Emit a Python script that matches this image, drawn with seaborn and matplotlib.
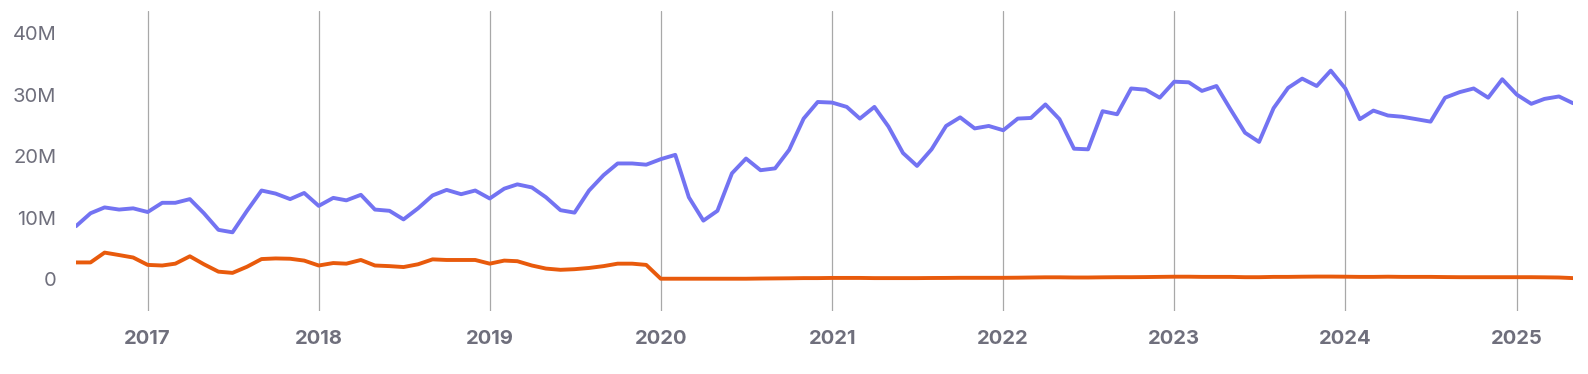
import pandas as pd
import matplotlib
matplotlib.use("Agg")
import matplotlib.pyplot as plt
import matplotlib.dates as mdates
import seaborn as sns

# monatliche Werte, Aug 2016 bis Mai 2025 (in Millionen)
months = pd.date_range("2016-08-01", "2025-05-01", freq="MS")

blue_values = [
    8.6, 10.7, 11.65, 11.3, 11.5,
    10.9, 12.4, 12.4, 13.0, 10.7, 8.0, 7.6, 11.1, 14.4, 13.9, 13.0, 14.0,
    11.9, 13.2, 12.8, 13.7, 11.3, 11.1, 9.7, 11.5, 13.6, 14.5, 13.8, 14.4,
    13.1, 14.7, 15.4, 14.9, 13.3, 11.2, 10.8, 14.4, 16.9, 18.8, 18.8, 18.6,
    19.5, 20.2, 13.3, 9.5, 11.1, 17.2, 19.6, 17.7, 18.0, 21.0, 26.1, 28.8,
    28.7, 28.0, 26.1, 28.0, 24.8, 20.5, 18.4, 21.1, 24.9, 26.3, 24.5, 24.9,
    24.2, 26.1, 26.2, 28.4, 26.0, 21.2, 21.1, 27.3, 26.8, 31.0, 30.8, 29.5,
    32.1, 32.0, 30.6, 31.4, 27.6, 23.8, 22.3, 27.8, 31.1, 32.6, 31.4, 33.9,
    31.0, 26.0, 27.4, 26.6, 26.4, 26.0, 25.6, 29.5, 30.4, 31.0, 29.5, 32.5,
    30.0, 28.5, 29.3, 29.7, 28.6,
]

orange_values = [
    2.7, 2.7, 4.3, 3.9, 3.5,
    2.3, 2.2, 2.5, 3.7, 2.4, 1.2, 1.0, 2.0, 3.25, 3.35, 3.3, 3.0,
    2.2, 2.6, 2.5, 3.1, 2.2, 2.1, 1.95, 2.4, 3.2, 3.1, 3.1, 3.1,
    2.5, 3.0, 2.9, 2.2, 1.7, 1.5, 1.6, 1.8, 2.1, 2.5, 2.5, 2.3,
    0.05, 0.05, 0.05, 0.05, 0.05, 0.05, 0.05, 0.08, 0.1, 0.12, 0.15, 0.15,
    0.18, 0.18, 0.18, 0.15, 0.15, 0.15, 0.15, 0.17, 0.18, 0.2, 0.2, 0.2,
    0.2, 0.22, 0.25, 0.28, 0.28, 0.25, 0.25, 0.28, 0.3, 0.3, 0.32, 0.35,
    0.38, 0.38, 0.35, 0.35, 0.35, 0.3, 0.3, 0.35, 0.35, 0.38, 0.4, 0.4,
    0.38, 0.35, 0.35, 0.38, 0.35, 0.35, 0.35, 0.32, 0.3, 0.3, 0.3, 0.3,
    0.3, 0.3, 0.28, 0.25, 0.15,
]

df = pd.DataFrame({
    "month": list(months) * 2,
    "value": [v * 1e6 for v in blue_values] + [v * 1e6 for v in orange_values],
    "series": ["blue"] * len(months) + ["orange"] * len(months),
})

sns.set_theme(style="white")
plt.rcParams["font.family"] = ["Inter", "DejaVu Sans"]

fig = plt.figure(figsize=(15.88, 3.74), dpi=100)
ax = fig.add_axes([76 / 1588, 1 - 311 / 374, (1573 - 76) / 1588, 300 / 374])

sns.lineplot(
    data=df, x="month", y="value", hue="series",
    palette={"blue": "#7373f2", "orange": "#e85a0c"},
    linewidth=2.8, legend=False, ax=ax,
)

ax.set_xlim(months[0], months[-1])
ax.set_ylim(-5.2e6, 43.6e6)
ax.set_yticks([0, 10e6, 20e6, 30e6, 40e6])
ax.set_yticklabels(["0", "10M", "20M", "30M", "40M"])
ax.xaxis.set_major_locator(mdates.YearLocator())
ax.xaxis.set_major_formatter(mdates.DateFormatter("%Y"))

ax.set_xlabel("")
ax.set_ylabel("")
for s in ax.spines.values():
    s.set_visible(False)

ax.grid(axis="x", color="#a8a8a8", linewidth=0.9)
ax.grid(axis="y", visible=False)
ax.tick_params(axis="y", length=0, pad=14, labelsize=14.5, labelcolor="#6f6f7c")
ax.tick_params(axis="x", length=0, pad=14, labelsize=14.5, labelcolor="#6f6f7c")
for lab in ax.get_xticklabels():
    lab.set_fontweight("bold")

fig.savefig("out.png", dpi=100)
